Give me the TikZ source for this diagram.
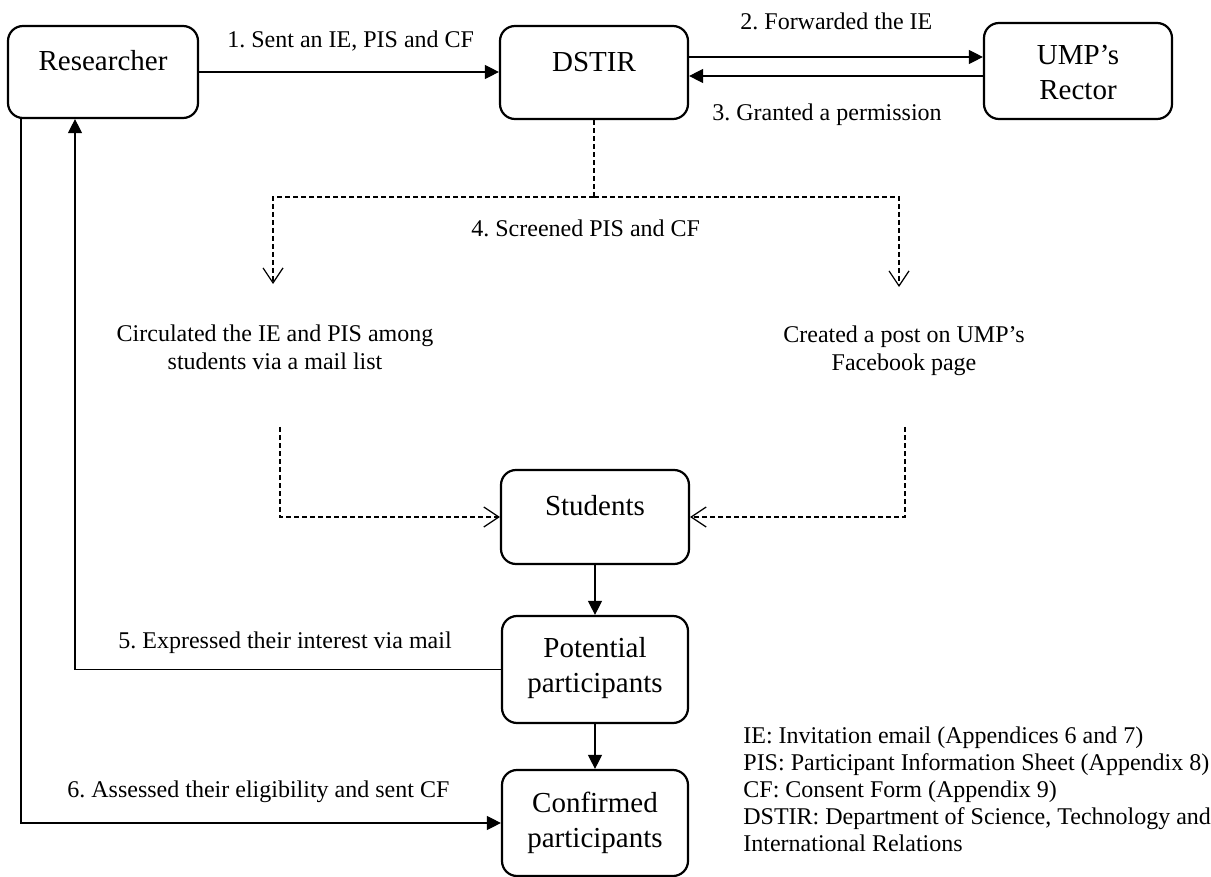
\documentclass[tikz,border=0pt]{standalone}
\usepackage{fontspec}
\setmainfont{Liberation Serif}
\usetikzlibrary{arrows.meta}
\frenchspacing
% centred two-line text whose reference point is the first baseline
\newcommand\stacktwo[2]{\begin{tabular}[t]{@{}c@{}}#1\\#2\end{tabular}}

\begin{document}
\begin{tikzpicture}[x=0.5pt,y=-0.5pt,
  box/.style={draw, line width=1.1pt, rounded corners=7.5pt, inner sep=0pt,
    font=\fontsize{14.5}{17.5}\selectfont, text height=8pt},
  lbl/.style={inner sep=0pt, font=\fontsize{12}{14}\selectfont},
  conn/.style={line width=0.6pt},
  arr/.style={conn, -{Triangle[length=7pt,width=7pt]}},
  dsh/.style={conn, dash pattern=on 2.5pt off 1.5pt},
  darr/.style={dsh, -{Straight Barb[length=7.5pt,width=10pt]}}
]
\useasboundingbox (0,0) rectangle (1211,877);

% boxes
\node[box, minimum width=95pt, minimum height=46pt, text depth=9pt] (res) at (103,72) {Researcher};
\node[box, minimum width=94pt, minimum height=46.5pt, text depth=8.5pt] (dstir) at (594,72.5) {DSTIR};
\node[box, minimum width=94pt, minimum height=48pt, text depth=14pt] (ump) at (1078,71) {\stacktwo{UMP’s}{Rector}};
\node[box, minimum width=94pt, minimum height=47pt, text depth=10pt] (stud) at (595,517) {Students};
\node[box, minimum width=93pt, minimum height=53.5pt, text depth=20.5pt] (pot) at (595,669.5) {\stacktwo{Potential}{participants}};
\node[box, minimum width=93pt, minimum height=53pt, text depth=19pt] (conf) at (595,823) {\stacktwo{Confirmed}{participants}};

% intermediate actions
\node[lbl, anchor=base] (circ) at (275,342) {\stacktwo{Circulated the IE and PIS among}{students via a mail list}};
\node[lbl, anchor=base] (post) at (904,343) {\stacktwo{Created a post on UMP’s}{Facebook page}};

% helper coordinates
\coordinate (fwd) at (0,57);
\coordinate (back) at (0,76);
\coordinate (split) at (594,197);
\coordinate (tipL) at (273,284);
\coordinate (tipR) at (899,287);
\coordinate (srcL) at (280,427);
\coordinate (srcR) at (905,427);
\coordinate (inner) at (75,0);
\coordinate (outer) at (21,0);

% solid connectors
\draw[arr] (res.east) -- (res.east -| dstir.west);
\draw[arr] (dstir.east |- fwd) -- (ump.west |- fwd);
\draw[arr] (ump.west |- back) -- (dstir.east |- back);
\draw[arr] (stud.south) -- (pot.north);
\draw[arr] (pot.south) -- (conf.north);
\draw[arr] (pot.west) -| (res.south -| inner);
\draw[arr] (res.south -| outer) |- (conf.west);

% dashed connectors
\draw[dsh] (dstir.south) -- (split);
\draw[darr] (split) -| (tipL);
\draw[darr] (split) -| (tipR);
\draw[darr] (srcL) |- (stud.west);
\draw[darr] (srcR) |- (stud.east);

% connector labels
\node[lbl, anchor=base west] (l1) at (227,48) {1. Sent an IE, PIS and CF};
\node[lbl, anchor=base west] (l2) at (740,30) {2. Forwarded the IE};
\node[lbl, anchor=base west] (l3) at (712,121) {3. Granted a permission};
\node[lbl, anchor=base west] (l4) at (471,237) {4. Screened PIS and CF};
\node[lbl, anchor=base west] (l5) at (118,648) {5. Expressed their interest via mail};
\node[lbl, anchor=base west] (l6) at (67,797) {6. Assessed their eligibility and sent CF};

% abbreviations
\node[lbl, anchor=base west, font=\fontsize{12}{13.6}\selectfont] (legend) at (743,743)
  {\begin{tabular}[t]{@{}l@{}}
   IE: Invitation email (Appendices 6 and 7)\\
   PIS: Participant Information Sheet (Appendix 8)\\
   CF: Consent Form (Appendix 9)\\
   DSTIR: Department of Science, Technology and\\
   International Relations
   \end{tabular}};
\end{tikzpicture}
\end{document}
